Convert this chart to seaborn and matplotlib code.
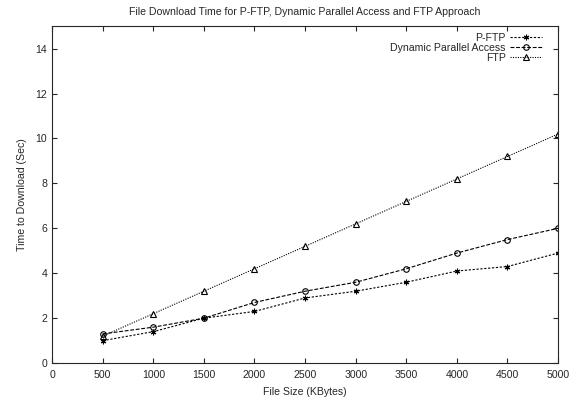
import numpy as np
import pandas as pd
import seaborn as sns
from matplotlib import pyplot as plt

file_size = [500, 1000, 1500, 2000, 2500, 3000, 3500, 4000, 4500, 5000]
pftp = [1.0, 1.4, 2.0, 2.3, 2.9, 3.2, 3.6, 4.1, 4.3, 4.9]
dpa = [1.3, 1.6, 2.0, 2.7, 3.2, 3.6, 4.2, 4.9, 5.5, 6.0]
ftp = [1.2, 2.2, 3.2, 4.2, 5.2, 6.2, 7.2, 8.2, 9.2, 10.2]
series = ['P-FTP', 'Dynamic Parallel Access', 'FTP']

df = pd.DataFrame({'size': file_size * 3,
                   'time': pftp + dpa + ftp,
                   'method': np.repeat(series, len(file_size))})

sns.set_style('ticks')
plt.rcParams['font.family'] = ['Liberation Sans', 'DejaVu Sans']
plt.rcParams['xtick.direction'] = 'in'
plt.rcParams['ytick.direction'] = 'in'

fig, ax = plt.subplots(figsize=(5.85, 4.03), dpi=100)
fig.subplots_adjust(left=0.089, right=0.954, top=0.935, bottom=0.099)

dashes = {'P-FTP': (2, 1.5), 'Dynamic Parallel Access': (3.5, 1.5), 'FTP': (1, 1.2)}
markers = {'P-FTP': (6, 2, 0), 'Dynamic Parallel Access': 'o', 'FTP': '^'}
for name in series:
    sub = df[df['method'] == name]
    sns.lineplot(data=sub, x='size', y='time', color='black', label=name,
                 marker=markers[name], dashes=dashes[name],
                 markersize=4, markerfacecolor='none', markeredgecolor='black',
                 markeredgewidth=0.8, linewidth=0.8, ax=ax)

ax.set_xlim(0, 5000)
ax.set_ylim(0, 15)
ax.set_xticks(range(0, 5001, 500))
ax.set_yticks(range(0, 15, 2))
ax.tick_params(labelsize=7.6, top=True, right=True, length=3.5, width=0.8)
ax.tick_params(axis='x', pad=5)
for s in ax.spines.values():
    s.set_linewidth(0.8)
ax.set_xlabel('File Size (KBytes)', fontsize=7.6, labelpad=5)
ax.set_ylabel('Time to Download (Sec)', fontsize=7.6, labelpad=6)
ax.set_title('File Download Time for P-FTP, Dynamic Parallel Access and FTP Approach',
             fontsize=7.6, pad=8)

leg = ax.legend(loc='upper right', frameon=False, markerfirst=False, fontsize=7.6,
                handlelength=3, handletextpad=0.4, borderaxespad=0.2,
                labelspacing=0.0, bbox_to_anchor=(0.98, 1.0))
plt.savefig('out.png', dpi=100)
